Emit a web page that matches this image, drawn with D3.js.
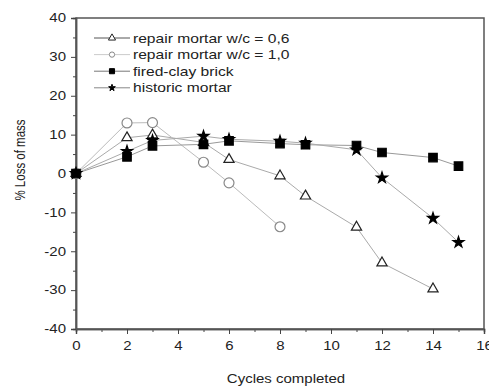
<!DOCTYPE html>
<html>
<head>
<meta charset="utf-8">
<script src="https://cdn.jsdelivr.net/npm/d3@7"></script>
<style>
  body { margin: 0; background: #fff; }
  svg { display: block; font-family: "Liberation Sans", Arial, sans-serif; }
</style>
</head>
<body>
<div id="chart"></div>
<script>
// data
var names = ["repair mortar w/c = 0,6", "repair mortar w/c = 1,0", "fired-clay brick", "historic mortar"];
var cyclesA = [0, 2, 3, 5, 6, 8, 9, 11, 12, 14];
var lossA = [0, 9.2, 9.9, 8, 3.6, -0.6, -5.8, -13.8, -23, -29.7];
var cyclesB = [0, 2, 3, 5, 6, 8];
var lossB = [0, 13, 13.1, 2.9, -2.4, -13.7];
var cyclesC = [0, 2, 3, 5, 6, 8, 9, 11, 12, 14, 15];
var lossC = [0, 4.3, 7.1, 7.5, 8.4, 7.7, 7.4, 7.2, 5.4, 4.1, 1.9];
var cyclesD = [0, 2, 3, 5, 6, 8, 9, 11, 12, 14, 15];
var lossD = [0, 5.7, 8.5, 9.6, 8.8, 8.3, 7.8, 6.1, -1.1, -11.5, -17.7];
var xTicks = [0, 2, 4, 6, 8, 10, 12, 14, 16];
var yTicks = [-40, -30, -20, -10, 0, 10, 20, 30, 40];

var width = 489, height = 389;
var sx = 1.25; // the original picture is stretched sideways
var svg = d3.select("#chart").append("svg")
    .attr("width", width)
    .attr("height", height);

var x = d3.scaleLinear().domain([0, 16]).range([76, 484]);
var y = d3.scaleLinear().domain([-40, 40]).range([329, 18]);
var plain = function (d) { return String(d); };

// frame
svg.append("rect")
    .attr("x", x(0)).attr("y", y(40))
    .attr("width", x(16) - x(0)).attr("height", y(-40) - y(40))
    .attr("fill", "none").attr("stroke", "#555").attr("stroke-width", 1.5);

// minor ticks
svg.append("g").attr("transform", "translate(0," + y(-40) + ")")
    .call(d3.axisBottom(x).tickValues(d3.range(1, 16, 2)).tickSize(3).tickFormat(""));
svg.append("g").attr("transform", "translate(" + x(0) + ",0)")
    .call(d3.axisLeft(y).tickValues(d3.range(-35, 40, 10)).tickSize(3).tickFormat(""));

// major ticks
svg.append("g").attr("transform", "translate(0," + y(-40) + ")")
    .call(d3.axisBottom(x).tickValues(xTicks).tickSize(5).tickPadding(7).tickFormat(plain));
svg.append("g").attr("transform", "translate(" + x(0) + ",0)")
    .call(d3.axisLeft(y).tickValues(yTicks).tickSize(5).tickPadding(3).tickFormat(plain));

svg.selectAll(".domain").attr("stroke", "#555").attr("stroke-width", 1.5);
svg.selectAll(".tick line").attr("stroke", "#444");
svg.selectAll(".tick text")
    .attr("font-size", 12)
    .attr("fill", "#222")
    .attr("transform", "scale(" + sx + ",1)")
    .style("font-family", "Liberation Sans, Arial, sans-serif");

// axis titles
svg.append("g").attr("transform", "translate(286,383)")
  .append("text")
    .attr("transform", "scale(" + sx + ",1)")
    .attr("text-anchor", "middle")
    .attr("font-size", 12)
    .attr("fill", "#222")
    .text("Cycles completed");
svg.append("text")
    .attr("transform", "translate(25,160) rotate(-90) scale(1," + sx + ")")
    .attr("text-anchor", "middle")
    .attr("font-size", 11.5)
    .attr("fill", "#222")
    .text("% Loss of mass");

var series = [
    { xs: cyclesA, ys: lossA, sym: d3.symbolTriangle, size: 45, fill: "#fff", stroke: "#222", line: "#aaa", lsize: 22, lline: "#555" },
    { xs: cyclesB, ys: lossB, sym: d3.symbolCircle, size: 78, fill: "#fff", stroke: "#888", line: "#bbb", lsize: 22, lline: "#ccc" },
    { xs: cyclesC, ys: lossC, sym: d3.symbolSquare, size: 72, fill: "#000", stroke: "#000", line: "#999", lsize: 26, lline: "#777" },
    { xs: cyclesD, ys: lossD, sym: d3.symbolStar, size: 38, fill: "#000", stroke: "#000", line: "#aaa", lsize: 14, lline: "#888" }
];

var line = d3.line().x(function (d) { return x(d[0]); }).y(function (d) { return y(d[1]); });

series.forEach(function (s) {
    var pts = s.xs.map(function (v, i) { return [v, s.ys[i]]; });
    svg.append("path")
        .attr("d", line(pts))
        .attr("fill", "none")
        .attr("stroke", s.line)
        .attr("stroke-width", 1);
});

series.forEach(function (s) {
    var pts = s.xs.map(function (v, i) { return [v, s.ys[i]]; });
    svg.append("g").selectAll("path")
        .data(pts)
        .enter()
        .append("path")
        .attr("transform", function (d) { return "translate(" + x(d[0]) + "," + y(d[1]) + ")"; })
        .attr("d", d3.symbol().type(s.sym).size(s.size))
        .attr("fill", s.fill)
        .attr("stroke", s.stroke)
        .attr("stroke-width", 1.2);
});

// legend
var legend = svg.append("g").attr("transform", "translate(94,38)");
series.forEach(function (s, i) {
    var row = legend.append("g").attr("transform", "translate(0," + (i * 16.6) + ")");
    row.append("line")
        .attr("x1", 0).attr("x2", 36)
        .attr("stroke", s.lline).attr("stroke-width", 1);
    row.append("path")
        .attr("transform", "translate(18,0)")
        .attr("d", d3.symbol().type(s.sym).size(s.lsize))
        .attr("fill", s.fill)
        .attr("stroke", s.stroke)
        .attr("stroke-width", 1);
    row.append("g").attr("transform", "translate(39,4.5)")
      .append("text")
        .attr("transform", "scale(" + sx + ",1)")
        .attr("font-size", 12.5)
        .attr("fill", "#222")
        .text(names[i]);
});
</script>
</body>
</html>
